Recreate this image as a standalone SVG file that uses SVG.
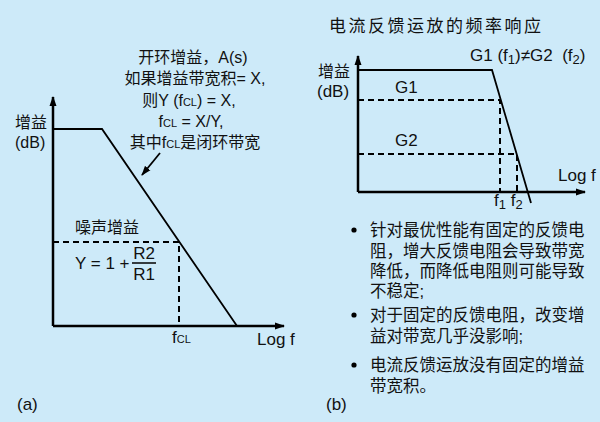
<svg xmlns="http://www.w3.org/2000/svg" width="600" height="422" viewBox="0 0 600 422">
<defs>
<marker id="ah" markerWidth="10" markerHeight="8" refX="9" refY="4" orient="auto" markerUnits="userSpaceOnUse">
<path d="M0,0.5 L10,4 L0,7.5 Z" fill="#000"/>
</marker>
<style>
text{font-family:"Liberation Sans","Noto Sans CJK SC",sans-serif;fill:#111;}
.t15{font-size:16px;}
.t17{font-size:17px;}
.t16{font-size:16.5px;}
.t11{font-size:11px;}
.s13{font-size:13px;}
.axis{stroke:#000;stroke-width:2.5;fill:none;}
.ln{stroke:#000;stroke-width:1.8;fill:none;}
.dash{stroke:#000;stroke-width:2;stroke-dasharray:6,4;fill:none;}
</style>
</defs>
<rect x="0" y="0" width="600" height="422" fill="#cdeaf9"/>

<g id="connectors">
<line class="axis" x1="53" y1="326" x2="53" y2="97" marker-end="url(#ah)"/>
<line class="axis" x1="53" y1="326" x2="284" y2="326" marker-end="url(#ah)"/>
<polyline class="ln" points="53,129 102,129 237,326"/>
<polyline class="dash" points="53,242 179,242 179,326"/>
<line class="ln" x1="160" y1="153" x2="142" y2="175" stroke-width="1.5" marker-end="url(#ah)"/>
<line class="axis" x1="358" y1="192" x2="358" y2="56" marker-end="url(#ah)"/>
<line class="axis" x1="358" y1="192" x2="585" y2="192" marker-end="url(#ah)"/>
<polyline class="ln" points="358,70 492,70 531,203"/>
<polyline class="dash" points="358,100 500,100 500,192"/>
<polyline class="dash" points="358,154 517,154 517,192"/>
</g>

<g id="left-labels">
<text class="t15" x="193" y="63" text-anchor="middle">开环增益，A(s)</text>
<text class="t15" x="195" y="84" text-anchor="middle">如果增益带宽积= X,</text>
<text class="t15" x="189" y="106" text-anchor="middle">则Y (f<tspan class="t11">CL</tspan>) = X,</text>
<text class="t15" x="191" y="127" text-anchor="middle">f<tspan class="t11">CL</tspan> = X/Y,</text>
<text class="t15" x="195" y="148" text-anchor="middle">其中f<tspan class="t11">CL</tspan>是闭环带宽</text>
<text class="t15" x="15" y="128">增益</text>
<text class="t15" x="15" y="148">(dB)</text>
<text class="t15" x="75" y="233">噪声增益</text>
<text class="t17" x="75" y="269">Y = 1 +</text>
<text class="t17" x="144" y="259" text-anchor="middle">R2</text>
<line x1="132" y1="263" x2="156" y2="263" stroke="#000" stroke-width="1.5"/>
<text class="t17" x="144" y="280" text-anchor="middle">R1</text>
<text class="t17" x="172" y="343">f<tspan class="t11">CL</tspan></text>
<text class="t17" x="257" y="345">Log f</text>
<text class="t17" x="17" y="410">(a)</text>
</g>

<g id="right-labels">
<text x="329" y="32" style="font-size:17px;letter-spacing:2.5px">电流反馈运放的频率响应</text>
<text class="t17" x="470" y="61" xml:space="preserve">G1 (f<tspan class="s13" dy="3">1</tspan><tspan dy="-3">)≠G2  (f</tspan><tspan class="s13" dy="3">2</tspan><tspan dy="-3">)</tspan></text>
<text class="t15" x="318" y="77">增益</text>
<text class="t17" x="317" y="97">(dB)</text>
<text class="t17" x="395" y="93">G1</text>
<text class="t17" x="395" y="146">G2</text>
<text class="t17" x="558" y="181">Log f</text>
<text class="t17" x="494" y="206">f<tspan class="s13" dy="3">1</tspan><tspan dy="-3"> f</tspan><tspan class="s13" dy="3">2</tspan></text>
<text class="t17" x="326" y="410">(b)</text>
</g>

<g id="bullets">
<circle cx="354" cy="230" r="2.6" fill="#000"/>
<text class="t16" x="370" y="236">针对最优性能有固定的反馈电</text>
<text class="t16" x="370" y="257">阻，增大反馈电阻会导致带宽</text>
<text class="t16" x="370" y="277">降低，而降低电阻则可能导致</text>
<text class="t16" x="370" y="297">不稳定;</text>
<circle cx="354" cy="315" r="2.6" fill="#000"/>
<text class="t16" x="370" y="321">对于固定的反馈电阻，改变增</text>
<text class="t16" x="370" y="342">益对带宽几乎没影响;</text>
<circle cx="354" cy="365" r="2.6" fill="#000"/>
<text class="t16" x="370" y="371">电流反馈运放没有固定的增益</text>
<text class="t16" x="370" y="392">带宽积。</text>
</g>
</svg>
